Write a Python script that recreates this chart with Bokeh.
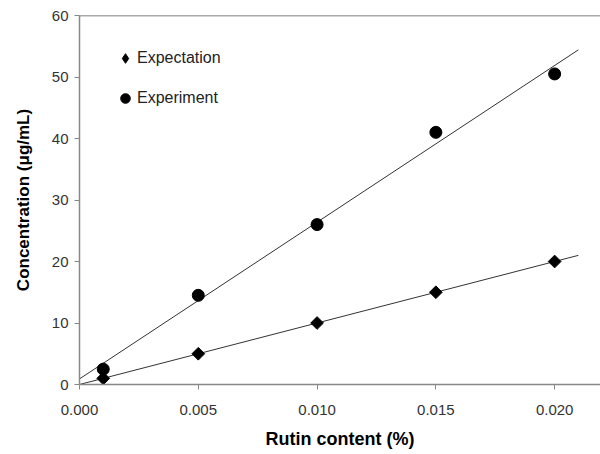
import numpy as np
from bokeh.plotting import figure
from bokeh.models import FixedTicker, PrintfTickFormatter, Range1d, Span, Legend, LegendItem
from bokeh.embed import file_html
from bokeh.resources import INLINE

rutin = [0.001, 0.005, 0.010, 0.015, 0.020]
expectation = [1, 5, 10, 15, 20]
experiment = [2.5, 14.5, 26, 41, 50.5]
x_ticks = [0.0, 0.005, 0.010, 0.015, 0.020]
y_ticks = [0, 10, 20, 30, 40, 50, 60]

FONT = "Liberation Sans"

p = figure(width=600, height=454, output_backend="svg", toolbar_location=None,
           x_range=Range1d(0, 0.02193), y_range=Range1d(0, 60),
           min_border_left=79, min_border_right=0, min_border_top=15, min_border_bottom=70)
p.outline_line_color = None
p.grid.visible = False
p.background_fill_color = "white"

# trend lines (least squares)
xt = np.array([0.0, 0.021])
for ys in (expectation, experiment):
    m, b = np.polyfit(rutin, ys, 1)
    p.line(xt, m * xt + b, line_color="#333333", line_width=1)

# small diamond (hidden under the rotated square) used for the legend glyph
leg1 = p.scatter(rutin, expectation, marker="diamond", size=9, color="black")
p.scatter(rutin, expectation, marker="square", angle=np.pi / 4, size=9, color="black")
r2 = p.scatter(rutin, experiment, marker="circle", size=12, color="black")

p.add_layout(Span(location=60, dimension="width", line_color="#555555", line_width=1.5))

for ax in (p.xaxis[0], p.yaxis[0]):
    ax.axis_line_color = "#888888"
    ax.axis_line_width = 1.5
    ax.major_tick_line_color = "#888888"
    ax.major_tick_in = 0
    ax.major_tick_out = 5
    ax.minor_tick_line_color = None
    ax.major_label_text_font = FONT
    ax.major_label_text_font_size = "15px"
    ax.major_label_text_color = "#333333"
    ax.axis_label_text_font = FONT
    ax.axis_label_text_font_size = "17px"
    ax.axis_label_text_font_style = "bold"
    ax.axis_label_text_color = "black"

p.xaxis[0].ticker = FixedTicker(ticks=x_ticks)
p.xaxis[0].formatter = PrintfTickFormatter(format="%.3f")
p.xaxis[0].axis_label = "Rutin content (%)"
p.xaxis[0].axis_label_text_font_size = "18px"
p.xaxis[0].major_label_standoff = 15
p.xaxis[0].axis_label_standoff = 11
p.yaxis[0].ticker = FixedTicker(ticks=y_ticks)
p.yaxis[0].axis_label = "Concentration (\u03bcg/mL)"
p.yaxis[0].major_label_standoff = 6
p.yaxis[0].axis_label_standoff = 16

legend = Legend(items=[LegendItem(label="Expectation", renderers=[leg1]),
                       LegendItem(label="Experiment", renderers=[r2])],
                location=(34, 274), border_line_color=None, background_fill_alpha=0,
                label_text_font=FONT, label_text_font_size="16px", label_text_color="#222222",
                glyph_width=24, glyph_height=24, label_standoff=0, spacing=16, padding=0, margin=0)
p.add_layout(legend)

open("out.html", "w").write(file_html(p, INLINE))
